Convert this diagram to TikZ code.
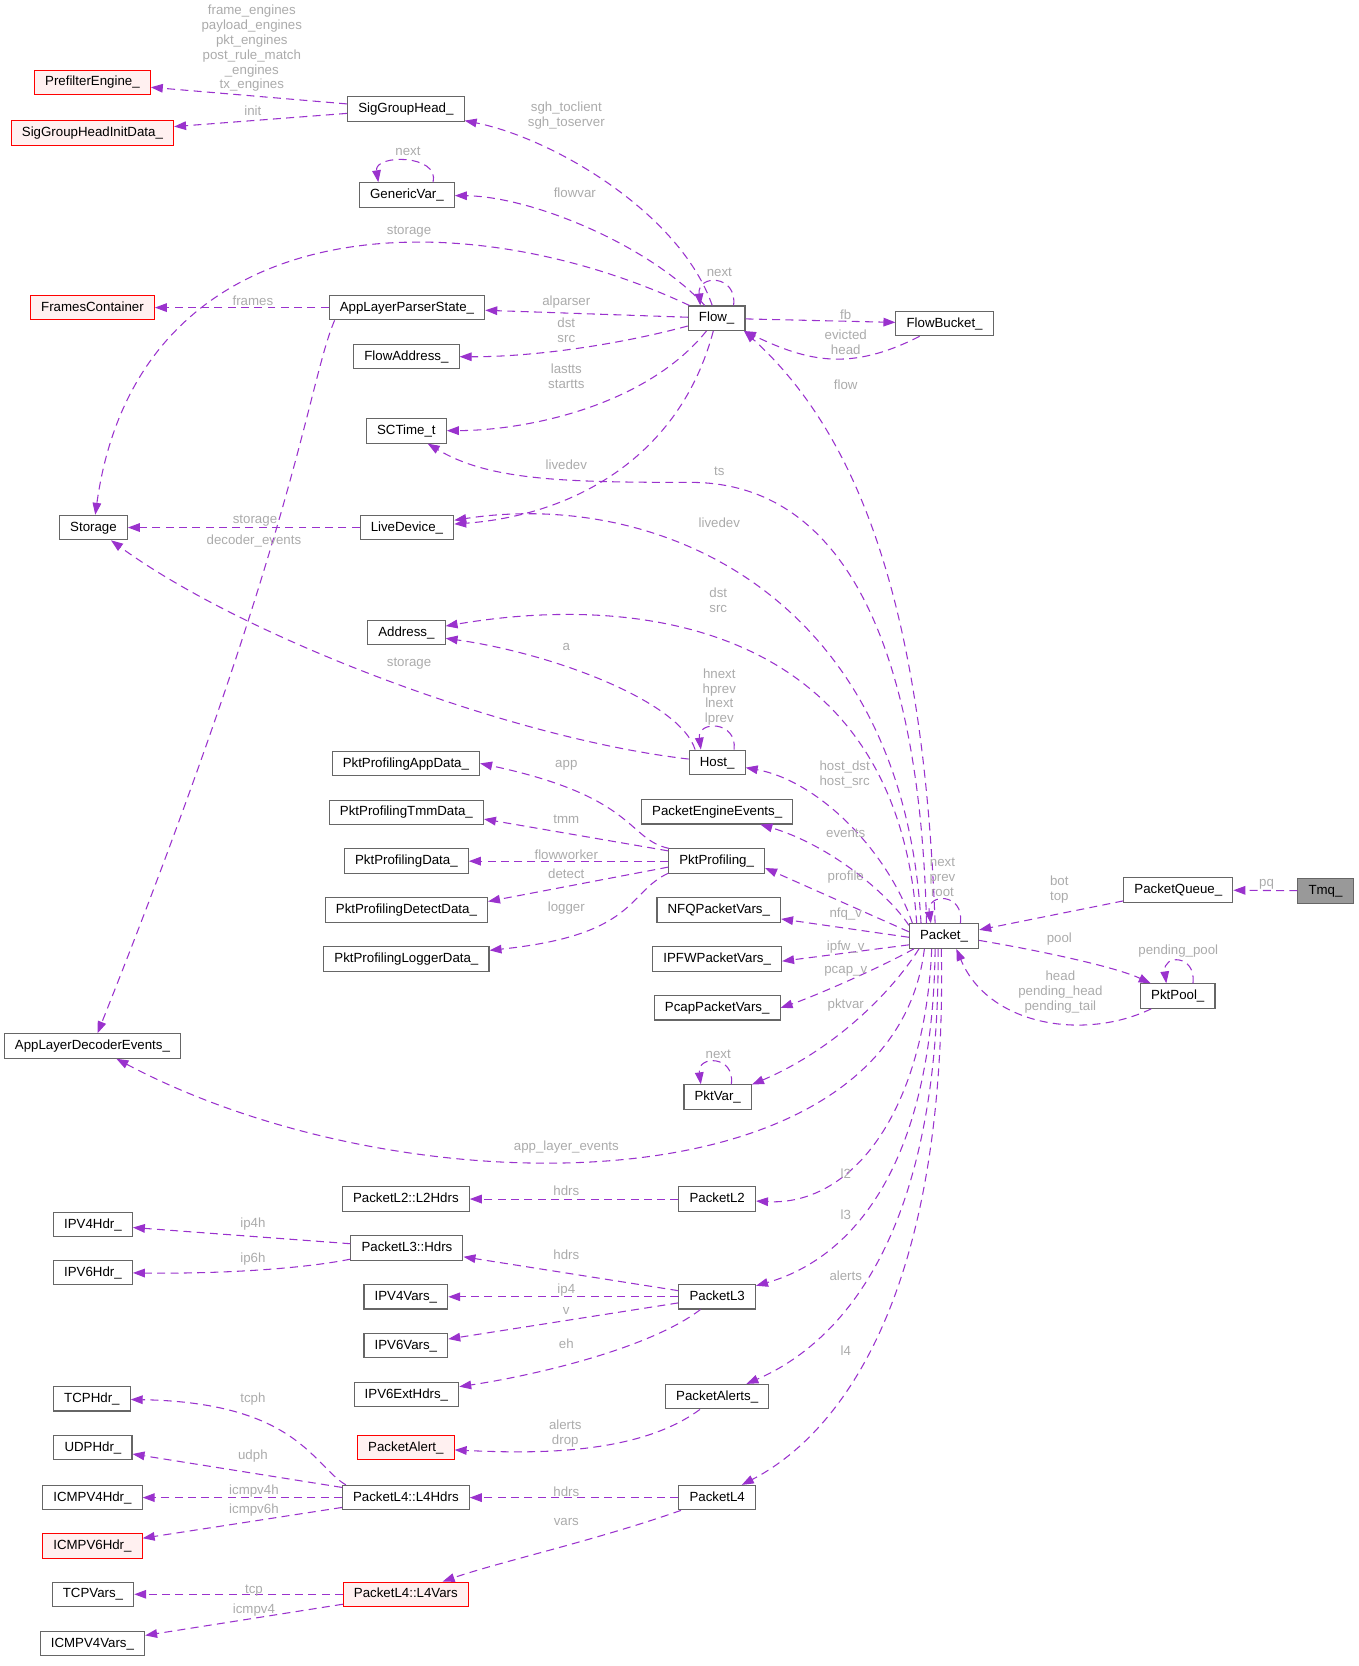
\documentclass[tikz,border=0pt]{standalone}
\usepackage{fontspec}
\setmainfont{Liberation Sans}
\usetikzlibrary{arrows.meta}
\definecolor{memcol}{HTML}{9A32CD}
\definecolor{boxgray}{HTML}{666666}
\definecolor{lblgray}{HTML}{ABABAB}
\definecolor{redfill}{HTML}{FFF0F0}
\definecolor{tmqfill}{HTML}{999999}
\begin{document}
\begin{tikzpicture}[x=0.8pt,y=0.8pt]
        \tikzstyle{cls}=[draw=boxgray,fill=white,line width=0.8pt,minimum height=18.4pt,inner xsep=8pt,inner ysep=0pt,text height=7.5pt,text depth=2pt,font=\fontsize{10}{12}\selectfont]
        \tikzstyle{undoc}=[cls,draw=red,fill=redfill]
        \tikzstyle{cur}=[cls,fill=tmqfill]
        \tikzstyle{mem}=[draw,color=memcol,line width=0.8pt,dash pattern=on 6pt off 4pt,-{Triangle[length=9pt,width=6.5pt]}]
        \tikzstyle{lbl}=[text=lblgray,align=center,inner sep=0pt,font=\fontsize{10}{11.2}\selectfont]
        \useasboundingbox (0,0) rectangle (1279,-1568);

        % classes
        \node [undoc] (prefilter) at (87,-77.5) {PrefilterEngine\_};
        \node [undoc] (sghinit) at (87,-125) {SigGroupHeadInitData\_};
        \node [cls] (sgh) at (382,-102.5) {SigGroupHead\_};
        \node [cls] (gvar) at (383,-183.5) {GenericVar\_};
        \node [undoc] (frames) at (87,-289.5) {FramesContainer};
        \node [cls] (alps) at (383,-289.5) {AppLayerParserState\_};
        \node [cls] (faddr) at (382.5,-335.5) {FlowAddress\_};
        \node [cls] (sctime) at (382.5,-405.5) {SCTime\_t};
        \node [cls] (storage) at (88,-496.5) {Storage};
        \node [cls] (livedev) at (383,-496.5) {LiveDevice\_};
        \node [cls] (addr) at (382.5,-595.5) {Address\_};
        \node [cls] (host) at (675,-717.5) {Host\_};
        \node [cls] (ppapp) at (382,-718.5) {PktProfilingAppData\_};
        \node [cls] (pptmm) at (382.5,-764.5) {PktProfilingTmmData\_};
        \node [cls] (ppdata) at (382.5,-810.5) {PktProfilingData\_};
        \node [cls] (ppdet) at (382.5,-856.5) {PktProfilingDetectData\_};
        \node [cls] (pplog) at (382.5,-902.5) {PktProfilingLoggerData\_};
        \node [cls] (pee) at (675,-764) {PacketEngineEvents\_};
        \node [cls] (pprof) at (674.5,-810.5) {PktProfiling\_};
        \node [cls] (nfq) at (676.5,-856.5) {NFQPacketVars\_};
        \node [cls] (ipfw) at (675,-902.5) {IPFWPacketVars\_};
        \node [cls] (pcap) at (675,-948.5) {PcapPacketVars\_};
        \node [cls] (pktvar) at (675.5,-1032.5) {PktVar\_};
        \node [cls] (aldec) at (87,-984.5) {AppLayerDecoderEvents\_};
        \node [cls] (flow) at (674.5,-299.5) {Flow\_};
        \node [cls] (fbucket) at (889,-304.5) {FlowBucket\_};
        \node [cls] (pkt) at (888.5,-881) {Packet\_};
        \node [cls] (pq) at (1109,-837.5) {PacketQueue\_};
        \node [cur] (tmq) at (1247.5,-838.5) {Tmq\_};
        \node [cls] (pool) at (1108.5,-937.5) {PktPool\_};
        \node [cls] (l2hdrs) at (382,-1128.5) {PacketL2::L2Hdrs};
        \node [cls] (l2) at (675,-1128.5) {PacketL2};
        \node [cls] (ip4hdr) at (87.5,-1152.5) {IPV4Hdr\_};
        \node [cls] (ip6hdr) at (87.5,-1197.5) {IPV6Hdr\_};
        \node [cls] (l3hdrs) at (383,-1174.5) {PacketL3::Hdrs};
        \node [cls] (ip4vars) at (382,-1220.5) {IPV4Vars\_};
        \node [cls] (l3) at (675,-1220.5) {PacketL3};
        \node [cls] (ip6vars) at (382,-1266.5) {IPV6Vars\_};
        \node [cls] (ip6ext) at (382.5,-1312.5) {IPV6ExtHdrs\_};
        \node [cls] (palerts) at (675,-1314.5) {PacketAlerts\_};
        \node [cls] (tcphdr) at (86.5,-1316.5) {TCPHdr\_};
        \node [undoc] (palert) at (382,-1362.5) {PacketAlert\_};
        \node [cls] (udphdr) at (87.5,-1362.5) {UDPHdr\_};
        \node [cls] (icmp4hdr) at (87,-1409.5) {ICMPV4Hdr\_};
        \node [cls] (l4hdrs) at (382,-1409.5) {PacketL4::L4Hdrs};
        \node [cls] (l4) at (675,-1409.5) {PacketL4};
        \node [undoc] (icmp6hdr) at (87,-1455) {ICMPV6Hdr\_};
        \node [cls] (tcpvars) at (87.5,-1500.5) {TCPVars\_};
        \node [undoc] (l4vars) at (382,-1500.5) {PacketL4::L4Vars};
        \node [cls] (icmp4vars) at (87,-1547) {ICMPV4Vars\_};

        % SigGroupHead_ and Flow_
        \path (sgh) edge[mem] (prefilter);
        \path (sgh) edge[mem] (sghinit);
        \draw[mem] (flow) .. controls (640,-200) and (520,-130) .. (sgh);
        \draw[mem] (flow) .. controls (610,-230) and (500,-185) .. (gvar);
        \draw[mem] (gvar.26) .. controls (414,-145) and (352,-145) .. (gvar.156);
        \draw[mem] (flow) .. controls (430,-185) and (130,-195) .. (storage);
        \path (flow) edge[mem] (alps);
        \path (alps) edge[mem] (frames);
        \draw[mem] (alps.190) .. controls (290,-360) and (280,-500) .. (aldec);
        \draw[mem] (flow) .. controls (580,-325) and (500,-336) .. (faddr);
        \draw[mem] (flow) .. controls (610,-380) and (500,-405) .. (sctime);
        \draw[mem] (flow) .. controls (640,-430) and (540,-485) .. (livedev);
        \path (flow) edge[mem] (fbucket);
        \draw[mem] (fbucket) .. controls (800,-350) and (760,-340) .. (flow.-25);
        \draw[mem] (flow.37) .. controls (694,-258) and (656,-258) .. (flow.142);
        \path (livedev) edge[mem] (storage);

        % Packet_
        \draw[mem] (pkt.125) .. controls (870,-600) and (820,-420) .. (flow.-25);
        \draw[mem] (pkt.144) .. controls (866,-600) and (790,-454) .. (650,-454) .. controls (530,-454) and (460,-452) .. (sctime);
        \draw[mem] (pkt.151) .. controls (850,-560) and (620,-460) .. (livedev);
        \draw[mem] (pkt.155) .. controls (845,-600) and (620,-555) .. (addr);
        \draw[mem] (pkt.158) .. controls (835,-800) and (770,-735) .. (host);
        \draw[mem] (host.150) .. controls (640,-660) and (520,-615) .. (addr);
        \draw[mem] (host.37) .. controls (694,-678) and (656,-678) .. (host.142);
        \draw[mem] (host) .. controls (480,-695) and (230,-600) .. (storage);
        \draw[mem] (pkt.163) .. controls (835,-840) and (780,-795) .. (pee);
        \path (pkt.173) edge[mem] (pprof.-8);
        \path (pkt.182) edge[mem] (nfq);
        \path (pkt.194) edge[mem] (ipfw.-2);
        \draw[mem] (pkt.203) .. controls (820,-915) and (760,-940) .. (pcap.east);
        \draw[mem] (pkt.-153) .. controls (835,-940) and (780,-990) .. (pktvar.20);
        \draw[mem] (pktvar.43) .. controls (692,-993) and (656,-993) .. (pktvar.143);
        \draw[mem] (pkt.-147) .. controls (840,-1140) and (380,-1140) .. (aldec);
        \draw[mem] (pkt.-134) .. controls (870,-1050) and (800,-1135) .. (l2);
        \draw[mem] (pkt.-125) .. controls (878,-1100) and (800,-1185) .. (l3);
        \draw[mem] (pkt.-115) .. controls (885,-1150) and (800,-1260) .. (palerts);
        \draw[mem] (pkt.-102) .. controls (892,-1220) and (790,-1350) .. (l4);
        \draw[mem] (pkt.38) .. controls (908,-840) and (872,-840) .. (pkt.136);
        \draw[mem] (pkt.-7) .. controls (980,-895) and (1050,-910) .. (pool);
        \draw[mem] (pool) .. controls (1020,-980) and (930,-965) .. (pkt.-46);
        \draw[mem] (pool.40) .. controls (1126,-898) and (1094,-898) .. (pool.132);
        \path (pq) edge[mem] (pkt.10);
        \path (tmq) edge[mem] (pq);

        % PktProfiling_
        \draw[mem] (pprof.165) .. controls (590,-790) and (600,-750) .. (ppapp.east);
        \path (pprof.168) edge[mem] (pptmm.-5);
        \path (pprof) edge[mem] (ppdata);
        \path (pprof.187) edge[mem] (ppdet.6);
        \draw[mem] (pprof.194) .. controls (590,-840) and (600,-880) .. (pplog);

        % layers
        \path (l2) edge[mem] (l2hdrs);
        \path (l3) edge[mem] (l3hdrs);
        \path (l3) edge[mem] (ip4vars);
        \path (l3) edge[mem] (ip6vars);
        \draw[mem] (l3) .. controls (610,-1270) and (500,-1295) .. (ip6ext);
        \path (l3hdrs) edge[mem] (ip4hdr);
        \draw[mem] (l3hdrs) .. controls (280,-1195) and (200,-1199) .. (ip6hdr);
        \draw[mem] (palerts) .. controls (600,-1370) and (500,-1368) .. (palert);
        \path (l4) edge[mem] (l4hdrs);
        \draw[mem] (l4) .. controls (560,-1450) and (470,-1470) .. (l4vars);
        \draw[mem] (l4hdrs.168) .. controls (295,-1380) and (280,-1320) .. (tcphdr);
        \path (l4hdrs) edge[mem] (udphdr);
        \path (l4hdrs) edge[mem] (icmp4hdr);
        \path (l4hdrs) edge[mem] (icmp6hdr);
        \path (l4vars) edge[mem] (tcpvars);
        \path (l4vars) edge[mem] (icmp4vars);

        % member names
        \node [lbl] (t-eng) at (237,-45.5) {frame\_engines\\payload\_engines\\pkt\_engines\\post\_rule\_match\\\_engines\\tx\_engines};
        \node [lbl] (t-init) at (238,-104) {init};
        \node [lbl] (t-sgh) at (533,-109) {sgh\_toclient\\sgh\_toserver};
        \node [lbl] (t-gnext) at (384,-142) {next};
        \node [lbl] (t-fvar) at (541,-181) {flowvar};
        \node [lbl] (t-fstor) at (385,-218) {storage};
        \node [lbl] (t-fnext) at (677,-256) {next};
        \node [lbl] (t-frames) at (238,-283) {frames};
        \node [lbl] (t-alp) at (533,-284) {alparser};
        \node [lbl] (t-fb) at (796,-296) {fb};
        \node [lbl] (t-fdst) at (533,-311) {dst\\src};
        \node [lbl] (t-evict) at (796,-322) {evicted\\head};
        \node [lbl] (t-lastts) at (533,-354) {lastts\\startts};
        \node [lbl] (t-flow) at (796,-362) {flow};
        \node [lbl] (t-flive) at (533,-437) {livedev};
        \node [lbl] (t-ts) at (677,-444) {ts};
        \node [lbl] (t-lstor) at (240,-490) {storage};
        \node [lbl] (t-plive) at (677,-492) {livedev};
        \node [lbl] (t-dec) at (239,-509) {decoder\_events};
        \node [lbl] (t-pdst) at (676,-565) {dst\\src};
        \node [lbl] (t-a) at (533,-609) {a};
        \node [lbl] (t-hstor) at (385,-625) {storage};
        \node [lbl] (t-hnext) at (677,-656) {hnext\\hprev\\lnext\\lprev};
        \node [lbl] (t-app) at (533,-720) {app};
        \node [lbl] (t-host) at (795,-729) {host\_dst\\host\_src};
        \node [lbl] (t-tmm) at (533,-771) {tmm};
        \node [lbl] (t-events) at (796,-784) {events};
        \node [lbl] (t-fw) at (533,-804) {flowworker};
        \node [lbl] (t-detect) at (533,-822) {detect};
        \node [lbl] (t-profile) at (796,-825) {profile};
        \node [lbl] (t-pnext) at (887,-826) {next\\prev\\root};
        \node [lbl] (t-pq) at (1192,-832) {pq};
        \node [lbl] (t-bot) at (997,-837) {bot\\top};
        \node [lbl] (t-logger) at (533,-855) {logger};
        \node [lbl] (t-nfq) at (796,-860) {nfq\_v};
        \node [lbl] (t-pool) at (997,-884) {pool};
        \node [lbl] (t-ipfw) at (796,-891) {ipfw\_v};
        \node [lbl] (t-ppool) at (1109,-895) {pending\_pool};
        \node [lbl] (t-pcap) at (796,-914) {pcap\_v};
        \node [lbl] (t-head) at (998,-934) {head\\pending\_head\\pending\_tail};
        \node [lbl] (t-pktvar) at (796,-946) {pktvar};
        \node [lbl] (t-vnext) at (676,-992) {next};
        \node [lbl] (t-ale) at (533,-1080) {app\_layer\_events};
        \node [lbl] (t-l2) at (796,-1105) {l2};
        \node [lbl] (t-h2) at (533,-1121) {hdrs};
        \node [lbl] (t-l3) at (796,-1143) {l3};
        \node [lbl] (t-ip4h) at (238,-1152) {ip4h};
        \node [lbl] (t-h3) at (533,-1181) {hdrs};
        \node [lbl] (t-ip6h) at (238,-1185) {ip6h};
        \node [lbl] (t-alerts) at (796,-1201) {alerts};
        \node [lbl] (t-ip4) at (533,-1214) {ip4};
        \node [lbl] (t-v) at (533,-1234) {v};
        \node [lbl] (t-eh) at (533,-1265) {eh};
        \node [lbl] (t-l4) at (796,-1271) {l4};
        \node [lbl] (t-tcph) at (238,-1317) {tcph};
        \node [lbl] (t-drop) at (532,-1349) {alerts\\drop};
        \node [lbl] (t-udph) at (238,-1370) {udph};
        \node [lbl] (t-icmp4h) at (239,-1403) {icmpv4h};
        \node [lbl] (t-h4) at (533,-1404) {hdrs};
        \node [lbl] (t-icmp6h) at (239,-1421) {icmpv6h};
        \node [lbl] (t-vars) at (533,-1432) {vars};
        \node [lbl] (t-tcp) at (239,-1497) {tcp};
        \node [lbl] (t-icmp4) at (239,-1515) {icmpv4};
      \end{tikzpicture}
\end{document}
